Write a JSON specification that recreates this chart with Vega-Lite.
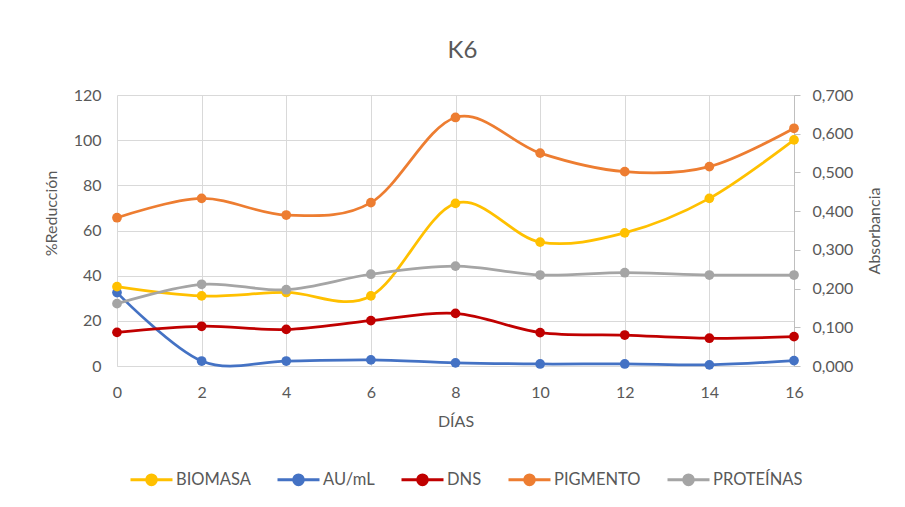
{
  "$schema": "https://vega.github.io/schema/vega-lite/v6.json",
  "autosize": {"type": "none"},
  "width": 677,
  "height": 271,
  "padding": {"left": 117, "top": 95, "right": 111, "bottom": 141},
  "background": "#ffffff",
  "title": {
    "text": "K6",
    "fontSize": 24,
    "font": "Lato",
    "fontWeight": "normal",
    "color": "#595959",
    "anchor": "middle",
    "baseline": "bottom",
    "offset": 31,
    "dx": 7,
    "dy": 31
  },
  "config": {
    "locale": {
      "number": {"decimal": ",", "thousands": ".", "grouping": [3], "currency": ["", " €"]}
    },
    "view": {"stroke": null},
    "font": "Lato",
    "axis": {
      "labelFont": "Lato",
      "labelFontSize": 16,
      "labelColor": "#595959",
      "titleFont": "Lato",
      "titleFontSize": 16,
      "titleFontWeight": "normal",
      "titleColor": "#595959",
      "gridColor": "#d9d9d9",
      "gridWidth": 1
    },
    "legend": {
      "labelFont": "Lato",
      "labelFontSize": 16.5,
      "labelColor": "#595959"
    }
  },
  "datasets": {
    "reduccion": [
      {"dia": 0, "serie": "AU/mL", "valor": 32.5},
      {"dia": 2, "serie": "AU/mL", "valor": 2.2},
      {"dia": 4, "serie": "AU/mL", "valor": 2.2},
      {"dia": 6, "serie": "AU/mL", "valor": 2.7},
      {"dia": 8, "serie": "AU/mL", "valor": 1.4},
      {"dia": 10, "serie": "AU/mL", "valor": 0.9},
      {"dia": 12, "serie": "AU/mL", "valor": 0.9},
      {"dia": 14, "serie": "AU/mL", "valor": 0.5},
      {"dia": 16, "serie": "AU/mL", "valor": 2.4},
      {"dia": 0, "serie": "DNS", "valor": 14.9},
      {"dia": 2, "serie": "DNS", "valor": 17.6},
      {"dia": 4, "serie": "DNS", "valor": 16.2},
      {"dia": 6, "serie": "DNS", "valor": 20.1},
      {"dia": 8, "serie": "DNS", "valor": 23.3},
      {"dia": 10, "serie": "DNS", "valor": 14.8},
      {"dia": 12, "serie": "DNS", "valor": 13.7},
      {"dia": 14, "serie": "DNS", "valor": 12.3},
      {"dia": 16, "serie": "DNS", "valor": 13.0}
    ],
    "absorbancia": [
      {"dia": 0, "serie": "BIOMASA", "valor": 0.205},
      {"dia": 2, "serie": "BIOMASA", "valor": 0.181},
      {"dia": 4, "serie": "BIOMASA", "valor": 0.190},
      {"dia": 6, "serie": "BIOMASA", "valor": 0.181},
      {"dia": 8, "serie": "BIOMASA", "valor": 0.420},
      {"dia": 10, "serie": "BIOMASA", "valor": 0.320},
      {"dia": 12, "serie": "BIOMASA", "valor": 0.344},
      {"dia": 14, "serie": "BIOMASA", "valor": 0.433},
      {"dia": 16, "serie": "BIOMASA", "valor": 0.584},
      {"dia": 0, "serie": "PIGMENTO", "valor": 0.383},
      {"dia": 2, "serie": "PIGMENTO", "valor": 0.433},
      {"dia": 4, "serie": "PIGMENTO", "valor": 0.390},
      {"dia": 6, "serie": "PIGMENTO", "valor": 0.422},
      {"dia": 8, "serie": "PIGMENTO", "valor": 0.642},
      {"dia": 10, "serie": "PIGMENTO", "valor": 0.550},
      {"dia": 12, "serie": "PIGMENTO", "valor": 0.502},
      {"dia": 14, "serie": "PIGMENTO", "valor": 0.515},
      {"dia": 16, "serie": "PIGMENTO", "valor": 0.614},
      {"dia": 0, "serie": "PROTEÍNAS", "valor": 0.161},
      {"dia": 2, "serie": "PROTEÍNAS", "valor": 0.211},
      {"dia": 4, "serie": "PROTEÍNAS", "valor": 0.197},
      {"dia": 6, "serie": "PROTEÍNAS", "valor": 0.237},
      {"dia": 8, "serie": "PROTEÍNAS", "valor": 0.258},
      {"dia": 10, "serie": "PROTEÍNAS", "valor": 0.235},
      {"dia": 12, "serie": "PROTEÍNAS", "valor": 0.241},
      {"dia": 14, "serie": "PROTEÍNAS", "valor": 0.235},
      {"dia": 16, "serie": "PROTEÍNAS", "valor": 0.235}
    ]
  },
  "encoding": {
    "x": {
      "field": "dia",
      "type": "quantitative",
      "scale": {"domain": [0, 16], "nice": false, "zero": false},
      "axis": {
        "title": "DÍAS",
        "values": [0, 2, 4, 6, 8, 10, 12, 14, 16],
        "grid": true,
        "ticks": false,
        "domain": true,
        "domainColor": "#d9d9d9",
        "labelPadding": 18,
        "titlePadding": 13,
        "labelFlush": false
      }
    },
    "color": {
      "field": "serie",
      "type": "nominal",
      "scale": {
        "domain": ["BIOMASA", "AU/mL", "DNS", "PIGMENTO", "PROTEÍNAS"],
        "range": ["#FFC000", "#4472C4", "#C00000", "#ED7D31", "#A5A5A5"]
      },
      "legend": {
        "title": null,
        "orient": "none",
        "direction": "horizontal",
        "legendX": 12,
        "legendY": 362,
        "symbolType": "M-1,0H1M-0.23,0A0.23,0.23,0,1,1,0.23,0A0.23,0.23,0,1,1,-0.23,0Z",
        "symbolSize": 1764,
        "symbolStrokeWidth": 3,
        "labelOffset": 2,
        "columnPadding": 20,
        "encode": {
          "symbols": {
            "update": {
              "fill": {"scale": "color", "field": "value"},
              "stroke": {"scale": "color", "field": "value"},
              "opacity": {"value": 1}
            }
          }
        }
      }
    }
  },
  "layer": [
    {
      "data": {"name": "reduccion"},
      "encoding": {
        "y": {
          "field": "valor",
          "type": "quantitative",
          "scale": {"domain": [0, 120], "nice": false},
          "axis": {
            "title": "%Reducción",
            "orient": "left",
            "values": [0, 20, 40, 60, 80, 100, 120],
            "grid": true,
            "ticks": false,
            "domain": false,
            "labelPadding": 16,
            "titlePadding": 14,
            "titleY": 118
          }
        }
      },
      "layer": [
        {"mark": {"type": "line", "interpolate": "cardinal", "strokeWidth": 2.75, "clip": false}},
        {"mark": {"type": "point", "filled": true, "opacity": 1, "size": 95}}
      ]
    },
    {
      "data": {"name": "absorbancia"},
      "encoding": {
        "y": {
          "field": "valor",
          "type": "quantitative",
          "scale": {"domain": [0, 0.7], "nice": false},
          "axis": {
            "title": "Absorbancia",
            "orient": "right",
            "values": [0, 0.1, 0.2, 0.3, 0.4, 0.5, 0.6, 0.7],
            "format": ".3f",
            "grid": false,
            "ticks": true,
            "tickSize": 6,
            "tickColor": "#bfbfbf",
            "domain": true,
            "domainColor": "#bfbfbf",
            "labelPadding": 12,
            "titleAngle": 270,
            "titleBaseline": "top",
            "titlePadding": 14
          }
        }
      },
      "layer": [
        {"mark": {"type": "line", "interpolate": "cardinal", "strokeWidth": 2.75, "clip": false}},
        {"mark": {"type": "point", "filled": true, "opacity": 1, "size": 95}}
      ]
    }
  ],
  "resolve": {"scale": {"y": "independent"}}
}
